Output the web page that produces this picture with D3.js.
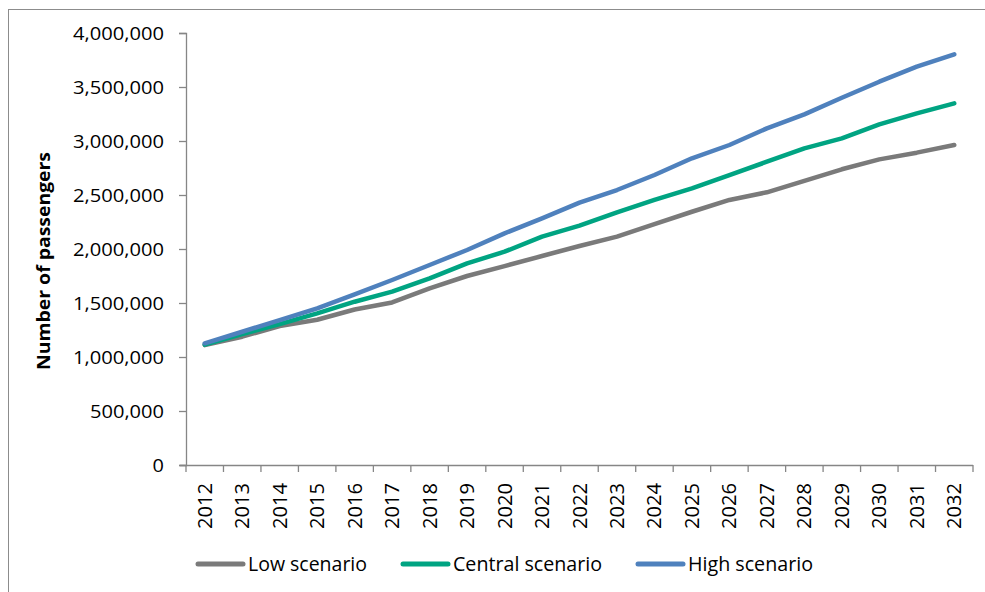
<!DOCTYPE html>
<html>
<head>
<meta charset="utf-8">
<script src="https://cdn.jsdelivr.net/npm/d3@7"></script>
<style>
  html, body { margin: 0; padding: 0; background: #fff; }
  svg { display: block; }
</style>
</head>
<body>
<svg id="chart" width="985" height="592"></svg>
<script>
const years = ["2012","2013","2014","2015","2016","2017","2018","2019","2020","2021","2022","2023","2024","2025","2026","2027","2028","2029","2030","2031","2032"];
const lowScenario = [1110000,1188000,1287000,1345000,1440000,1505000,1636000,1750000,1842000,1935000,2028000,2114000,2231000,2345000,2454000,2525000,2630000,2738000,2830000,2892000,2963000];
const centralScenario = [1115000,1213000,1305000,1404000,1512000,1605000,1728000,1867000,1975000,2114000,2216000,2340000,2454000,2562000,2685000,2808000,2932000,3025000,3154000,3256000,3349000];
const highScenario = [1127000,1234000,1342000,1451000,1580000,1713000,1852000,1991000,2145000,2284000,2429000,2546000,2685000,2840000,2963000,3117000,3247000,3401000,3549000,3688000,3803000];
const yTicks = [0,500000,1000000,1500000,2000000,2500000,3000000,3500000,4000000];
const seriesNames = ["Low scenario","Central scenario","High scenario"];
const seriesColors = ["#7a7a7a","#00a482","#4f81bd"];
const yTitle = "Number of passengers";

const series = [lowScenario, centralScenario, highScenario];
const svg = d3.select("#chart");
const axisColor = "#868686";
const fontFam = "'Open Sans', 'DejaVu Sans', sans-serif";

// outer border
svg.append("rect").attr("x", 8.5).attr("y", 9.5).attr("width", 1000).attr("height", 600)
  .attr("fill", "none").attr("stroke", "#8c8c8c").attr("stroke-width", 1);

const plotLeft = 186, plotRight = 973, plotTop = 33, plotBottom = 465;
const x = d3.scaleBand().domain(years).range([plotLeft, plotRight]);
const y = d3.scaleLinear().domain([0, 4000000]).range([plotBottom, plotTop]);

// Y axis
const fmt = d3.format(",");
const yAxis = svg.append("g").attr("transform", `translate(${plotLeft},0)`)
  .call(d3.axisLeft(y).tickValues(yTicks).tickFormat(fmt).tickSize(7).tickPadding(15));
yAxis.select(".domain").attr("stroke", axisColor).attr("stroke-width", 1.3);
yAxis.selectAll(".tick line").attr("stroke", axisColor).attr("stroke-width", 1.3);
yAxis.selectAll(".tick text")
  .attr("font-family", fontFam).attr("font-size", 19).attr("fill", "#000")
  .attr("textLength", d => { const s = fmt(d); const digits = s.replace(/,/g, "").length; const commas = s.length - digits; return digits * 11.4 + commas * 5.6; })
  .attr("lengthAdjust", "spacingAndGlyphs");

// X axis
const xAxis = svg.append("g").attr("transform", `translate(0,${plotBottom})`)
  .call(d3.axisBottom(x).tickSize(0));
xAxis.select(".domain").attr("stroke", axisColor).attr("stroke-width", 1.3)
  .attr("d", `M${plotLeft - 6},0.5H${plotRight}`);
// category boundary ticks
const boundaries = years.map(yr => x(yr)).concat([plotRight]);
xAxis.selectAll(".bnd").data(boundaries).join("line").attr("class", "bnd")
  .attr("x1", d => d).attr("x2", d => d).attr("y1", 0).attr("y2", 7)
  .attr("stroke", axisColor).attr("stroke-width", 1.3);
xAxis.selectAll(".tick text")
  .attr("font-family", fontFam).attr("font-size", 20).attr("fill", "#000")
  .attr("text-anchor", "end").attr("dy", "0.35em")
  .attr("transform", "translate(0,18) rotate(-90)")
  .attr("x", 0).attr("y", 0)
  .attr("textLength", 46).attr("lengthAdjust", "spacingAndGlyphs");

// Y title
svg.append("text")
  .attr("transform", `translate(44, ${(152 + 370) / 2}) rotate(-90)`)
  .attr("text-anchor", "middle").attr("dy", "0.35em")
  .attr("font-family", fontFam).attr("font-weight", "bold").attr("font-size", 18)
  .attr("textLength", 218).attr("lengthAdjust", "spacingAndGlyphs")
  .text(yTitle);

// Lines
const line = d3.line()
  .x((d, i) => x(years[i]) + x.bandwidth() / 2)
  .y(d => y(d));
series.forEach((s, i) => {
  svg.append("path").datum(s)
    .attr("d", line)
    .attr("fill", "none")
    .attr("stroke", seriesColors[i])
    .attr("stroke-width", 4.5)
    .attr("stroke-linecap", "round")
    .attr("stroke-linejoin", "round");
});

// Legend
const legendX = [197, 402, 637];
const legendTextLen = [119, 149, 125];
const legendY = 564;
seriesNames.forEach((name, i) => {
  const g = svg.append("g").attr("transform", `translate(${legendX[i]},${legendY})`);
  g.append("line").attr("x1", 1).attr("x2", 46).attr("y1", 0).attr("y2", 0)
    .attr("stroke", seriesColors[i]).attr("stroke-width", 5).attr("stroke-linecap", "round");
  g.append("text").attr("x", 51).attr("y", 0).attr("dy", "0.36em")
    .attr("font-family", fontFam).attr("font-size", 20).attr("fill", "#000")
    .attr("textLength", legendTextLen[i]).attr("lengthAdjust", "spacingAndGlyphs")
    .text(name);
});
</script>
</body>
</html>
